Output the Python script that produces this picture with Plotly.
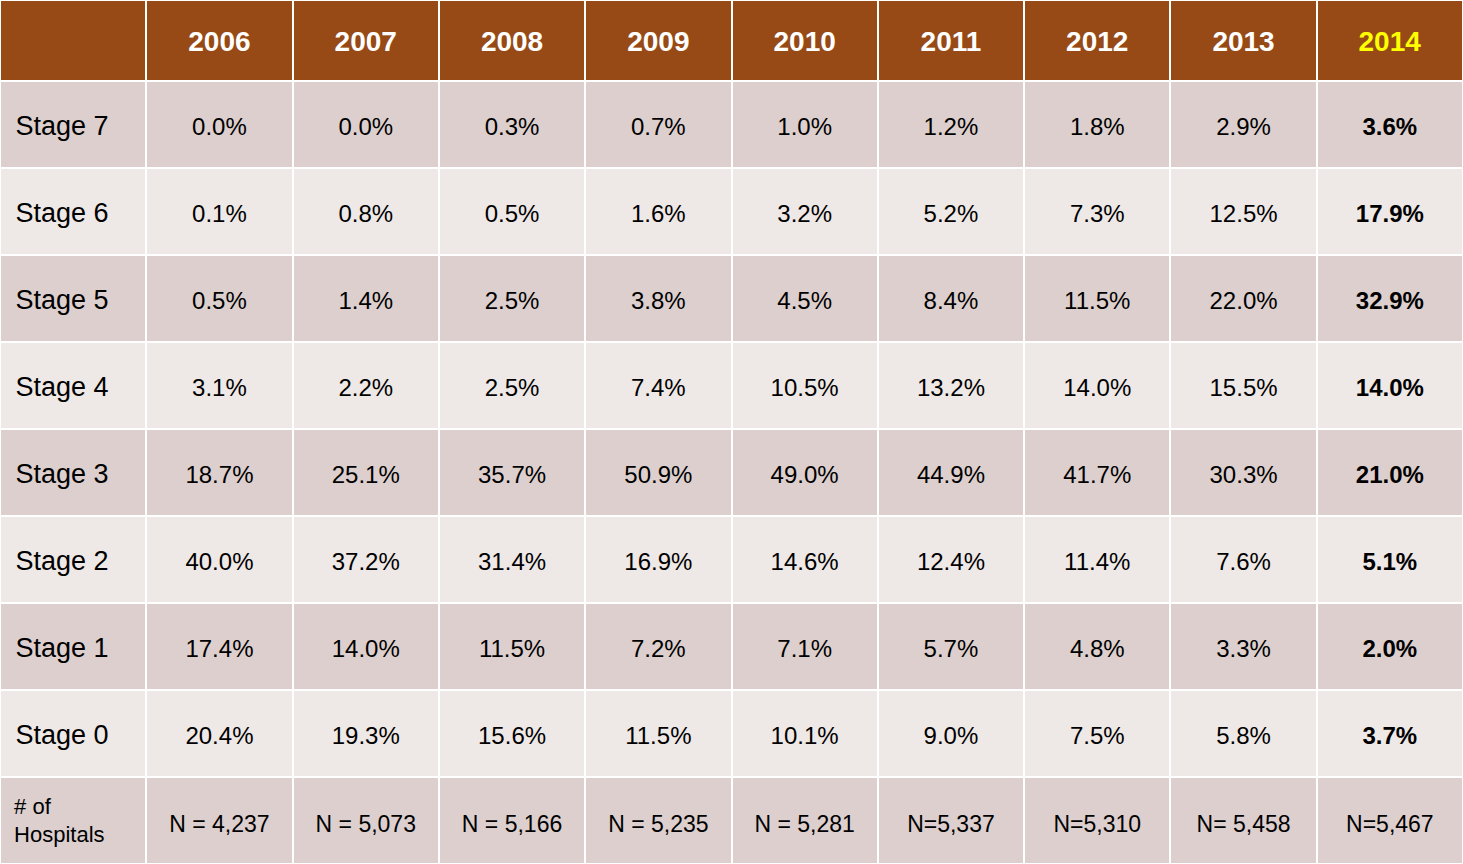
import plotly.graph_objects as go

years = ["2006", "2007", "2008", "2009", "2010", "2011", "2012", "2013", "2014"]
row_labels = ["Stage 7", "Stage 6", "Stage 5", "Stage 4", "Stage 3", "Stage 2", "Stage 1", "Stage 0", "# of<br>Hospitals"]

stage7 = ["0.0%", "0.0%", "0.3%", "0.7%", "1.0%", "1.2%", "1.8%", "2.9%", "3.6%"]
stage6 = ["0.1%", "0.8%", "0.5%", "1.6%", "3.2%", "5.2%", "7.3%", "12.5%", "17.9%"]
stage5 = ["0.5%", "1.4%", "2.5%", "3.8%", "4.5%", "8.4%", "11.5%", "22.0%", "32.9%"]
stage4 = ["3.1%", "2.2%", "2.5%", "7.4%", "10.5%", "13.2%", "14.0%", "15.5%", "14.0%"]
stage3 = ["18.7%", "25.1%", "35.7%", "50.9%", "49.0%", "44.9%", "41.7%", "30.3%", "21.0%"]
stage2 = ["40.0%", "37.2%", "31.4%", "16.9%", "14.6%", "12.4%", "11.4%", "7.6%", "5.1%"]
stage1 = ["17.4%", "14.0%", "11.5%", "7.2%", "7.1%", "5.7%", "4.8%", "3.3%", "2.0%"]
stage0 = ["20.4%", "19.3%", "15.6%", "11.5%", "10.1%", "9.0%", "7.5%", "5.8%", "3.7%"]
hospitals = ["N = 4,237", "N = 5,073", "N = 5,166", "N = 5,235", "N = 5,281", "N=5,337", "N=5,310", "N= 5,458", "N=5,467"]

rows = [stage7, stage6, stage5, stage4, stage3, stage2, stage1, stage0, hospitals]

BROWN = "#974A15"
DARK = "#DCCFCD"
LIGHT = "#EEE8E6"
FONT = "Liberation Sans, Arial, sans-serif"

BASE = 21.5        # base size: sets line spacing
HEAD_BASE = 21
n_rows = len(rows)


def lead(size):
    # invisible first line used to push the text down inside the cell
    return "<span style='font-size:%.1fpx'>&nbsp;</span><br>" % size


def span(txt, size, bold=False, lead_size=19.5, indent=""):
    if bold:
        txt = "<b>" + txt + "</b>"
    parts = txt.split("<br>")
    out = "<br>".join("<span style='font-size:%dpx'>%s%s</span>" % (size, indent, p) for p in parts)
    return lead(lead_size) + out


# first column (row labels)
first_col = []
for i, lab in enumerate(row_labels):
    if i == n_rows - 1:
        first_col.append(span(lab, 22, lead_size=1, indent="&nbsp;"))
    else:
        first_col.append(span(lab, 27, indent="&nbsp;"))

columns = [first_col]
for j in range(len(years)):
    col = []
    for i, r in enumerate(rows):
        bold = (j == len(years) - 1) and (i < n_rows - 1)
        size = 24 if i < n_rows - 1 else 23
        col.append(span(r[j], size, bold, lead_size=19.5 if i < n_rows - 1 else 20.5))
    columns.append(col)

row_fill = [DARK if i % 2 == 0 else LIGHT for i in range(n_rows)]
fills = [row_fill for _ in range(len(columns))]

header_vals = [""] + [span(y, 28, True, lead_size=17.3) for y in years]
header_colors = ["white"] + ["white"] * (len(years) - 1) + ["#FFFF00"]

fig = go.Figure(
    go.Table(
        domain=dict(x=[0, 1], y=[0, 1]),
        columnwidth=[1] * len(columns),
        header=dict(
            values=header_vals,
            fill_color=BROWN,
            line=dict(color="white", width=2),
            align="center",
            height=81,
            font=dict(family=FONT, size=HEAD_BASE, color=header_colors),
        ),
        cells=dict(
            values=columns,
            fill_color=fills,
            line=dict(color="white", width=2),
            align=["left"] + ["center"] * len(years),
            height=87,
            font=dict(family=FONT, size=BASE, color="black"),
        ),
    )
)

fig.update_layout(
    width=1463,
    height=864,
    autosize=False,
    margin=dict(l=0, r=0, t=0, b=0),
    paper_bgcolor="white",
)

fig.write_html(
    "out.html",
    config={"displayModeBar": False},
    post_script="document.body.style.margin='0';document.body.style.overflow='hidden';",
)
